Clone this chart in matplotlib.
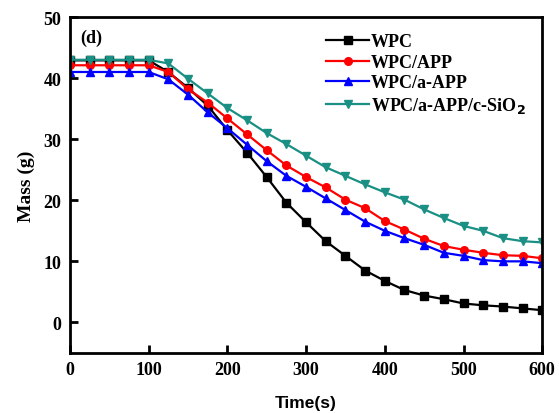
import matplotlib
matplotlib.use("Agg")
import matplotlib.pyplot as plt
import numpy as np

# time in s, sampled every 25 s
time_s = [0, 25, 50, 75, 100, 125, 150, 175, 200, 225, 250, 275, 300,
          325, 350, 375, 400, 425, 450, 475, 500, 525, 550, 575, 600]

mass_wpc = [42.9, 42.9, 42.9, 42.9, 42.9, 41.0, 38.4, 35.5, 31.5, 27.8, 23.8, 19.6, 16.4,
            13.3, 10.9, 8.5, 6.8, 5.3, 4.4, 3.8, 3.1, 2.8, 2.6, 2.3, 2.0]
mass_app = [42.1, 42.1, 42.1, 42.1, 42.1, 41.0, 38.2, 36.0, 33.4, 30.8, 28.2, 25.7, 23.8,
            22.1, 20.1, 18.7, 16.6, 15.2, 13.7, 12.5, 11.9, 11.4, 11.0, 10.9, 10.5]
mass_aapp = [41.0, 41.0, 41.0, 41.0, 41.0, 39.8, 37.3, 34.4, 31.8, 29.1, 26.4, 24.0, 22.2,
             20.3, 18.4, 16.5, 15.0, 13.8, 12.7, 11.4, 10.9, 10.2, 10.0, 10.0, 9.7]
mass_sio2 = [43.0, 43.0, 43.0, 43.0, 43.0, 42.4, 39.9, 37.5, 35.1, 33.1, 31.0, 29.2, 27.3,
             25.4, 24.0, 22.6, 21.3, 20.1, 18.5, 17.1, 15.8, 15.0, 13.8, 13.3, 13.1]

series = [
    ("WPC", mass_wpc, "black", "s"),
    ("WPC/APP", mass_app, "#ff0000", "o"),
    ("WPC/a-APP", mass_aapp, "#0000ff", "^"),
    ("WPC/a-APP/c-SiO$_\\mathbf{2}$", mass_sio2, "#1a9084", "v"),
]

serif = "Liberation Serif"

fig = plt.figure(figsize=(5.59, 4.14), dpi=100)
ax = fig.add_axes([0.125, 0.145, 0.845, 0.8115])

for label, values, color, marker in series:
    ax.plot(time_s, values, color=color, marker=marker, markersize=5.5, lw=1.6, label=label)

ax.set_xlim(0, 600)
ax.set_ylim(-5, 50)
ax.set_xticks(np.arange(0, 601, 100))
ax.set_yticks(np.arange(0, 51, 10))
ax.tick_params(direction="in", length=6, width=2, labelsize=13, pad=6)
for lab in ax.get_xticklabels() + ax.get_yticklabels():
    lab.set_fontfamily(serif)
    lab.set_fontweight("bold")
for sp in ax.spines.values():
    sp.set_linewidth(2)

ax.set_xlabel("Time(s)", fontfamily="Liberation Sans", fontweight="bold", fontsize=12.5, labelpad=12)
ax.set_ylabel("Mass (g)", fontfamily=serif, fontweight="bold", fontsize=14, labelpad=6)
ax.text(0.022, 0.965, "(d)", transform=ax.transAxes, fontfamily=serif, fontweight="bold",
        fontsize=13, va="top", ha="left")

leg = ax.legend(loc="upper right", bbox_to_anchor=(1.0, 1.0), frameon=False,
                prop={"family": serif, "weight": "bold", "size": 13},
                handlelength=2.4, handletextpad=0.1, labelspacing=0.2)

fig.savefig("out.png", dpi=100)
